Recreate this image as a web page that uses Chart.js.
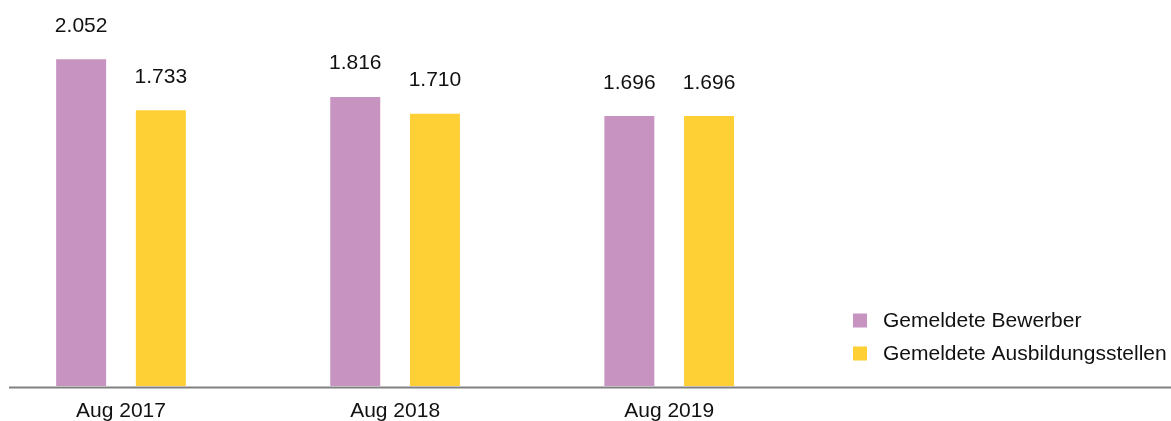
<!DOCTYPE html>
<html>
<head>
<meta charset="utf-8">
<script src="https://cdn.jsdelivr.net/npm/chart.js@4"></script>
<style>
  html, body { margin: 0; padding: 0; background: #fff; }
  #box { width: 1171px; height: 421px; position: relative; }
</style>
</head>
<body>
<div id="box"><canvas id="grafico"></canvas></div>
<script>
// === DATEN ===
const kategorien = ['Aug 2017', 'Aug 2018', 'Aug 2019'];
const bewerber = [2052, 1816, 1696];
const ausbildungsstellen = [1733, 1710, 1696];
const serienNamen = ['Gemeldete Bewerber', 'Gemeldete Ausbildungsstellen'];
const farben = ['#C793C0', '#FFD035'];

const FONT = '"Liberation Sans", Arial, sans-serif';

function formatZahl(v) {
    return String(v).replace(/\B(?=(\d{3})+(?!\d))/g, '.');
}

function punkte(werte) {
    return werte.map((v, i) => ({ x: i, y: v }));
}

// === PLUGINS ===
// Achsenlinie unter den Balken
const achse = {
    id: 'achse',
    afterDatasetsDraw(chart) {
        const ctx = chart.ctx;
        const y = chart.chartArea.bottom + 1.5;
        ctx.save();
        ctx.strokeStyle = '#808080';
        ctx.lineWidth = 2;
        ctx.beginPath();
        ctx.moveTo(9, y);
        ctx.lineTo(chart.width, y);
        ctx.stroke();
        ctx.restore();
    }
};

const wertLabels = {
    id: 'wertLabels',
    afterDatasetsDraw(chart) {
        const ctx = chart.ctx;
        ctx.save();
        ctx.font = '21px ' + FONT;
        ctx.fillStyle = '#111';
        ctx.textAlign = 'center';
        ctx.textBaseline = 'alphabetic';
        chart.data.datasets.forEach((ds, d) => {
            chart.getDatasetMeta(d).data.forEach((bar, i) => {
                ctx.fillText(formatZahl(ds.data[i].y), bar.x, bar.y - 27.5);
            });
        });
        ctx.restore();
    }
};

const legende = {
    id: 'legende',
    afterDraw(chart) {
        const ctx = chart.ctx;
        ctx.save();
        ctx.font = '21px ' + FONT;
        ctx.textBaseline = 'middle';
        ctx.textAlign = 'left';
        chart.data.datasets.forEach((ds, d) => {
            const y = 320.5 + d * 33;
            ctx.fillStyle = ds.backgroundColor;
            ctx.fillRect(853, y - 7, 14, 14);
            ctx.fillStyle = '#111';
            ctx.fillText(ds.label, 883, y + 1);
        });
        ctx.restore();
    }
};

// === GRAFIK ===
const ctx = document.getElementById('grafico').getContext('2d');
const chart = new Chart(ctx, {
    type: 'bar',
    data: {
        datasets: [
            {
                label: serienNamen[0],
                data: punkte(bewerber),
                backgroundColor: farben[0]
            },
            {
                label: serienNamen[1],
                data: punkte(ausbildungsstellen),
                backgroundColor: farben[1]
            }
        ]
    },
    options: {
        responsive: true,
        maintainAspectRatio: false,
        animation: false,
        categoryPercentage: 0.5815,
        barPercentage: 0.627,
        layout: {
            // Achse ragt etwas unter den Rand, damit die Beschriftung tiefer sitzt
            padding: { left: 9, right: 0, top: 0, bottom: -16.2 }
        },
        plugins: {
            legend: { display: false },
            tooltip: { enabled: false }
        },
        scales: {
            x: {
                type: 'linear',
                offset: false,
                min: -0.4086,
                max: 3.8307,
                grid: { display: false, drawTicks: false, offset: false },
                border: { display: false },
                afterBuildTicks(axis) {
                    axis.ticks = kategorien.map((_, i) => ({ value: i }));
                },
                ticks: {
                    padding: 13,
                    color: '#111',
                    font: { family: FONT, size: 21, lineHeight: 1.2 },
                    maxRotation: 0,
                    autoSkip: false,
                    callback: (v) => kategorien[v]
                }
            },
            y: {
                display: false,
                min: 0,
                max: 2425
            }
        }
    },
    plugins: [achse, wertLabels, legende]
});
</script>
</body>
</html>
